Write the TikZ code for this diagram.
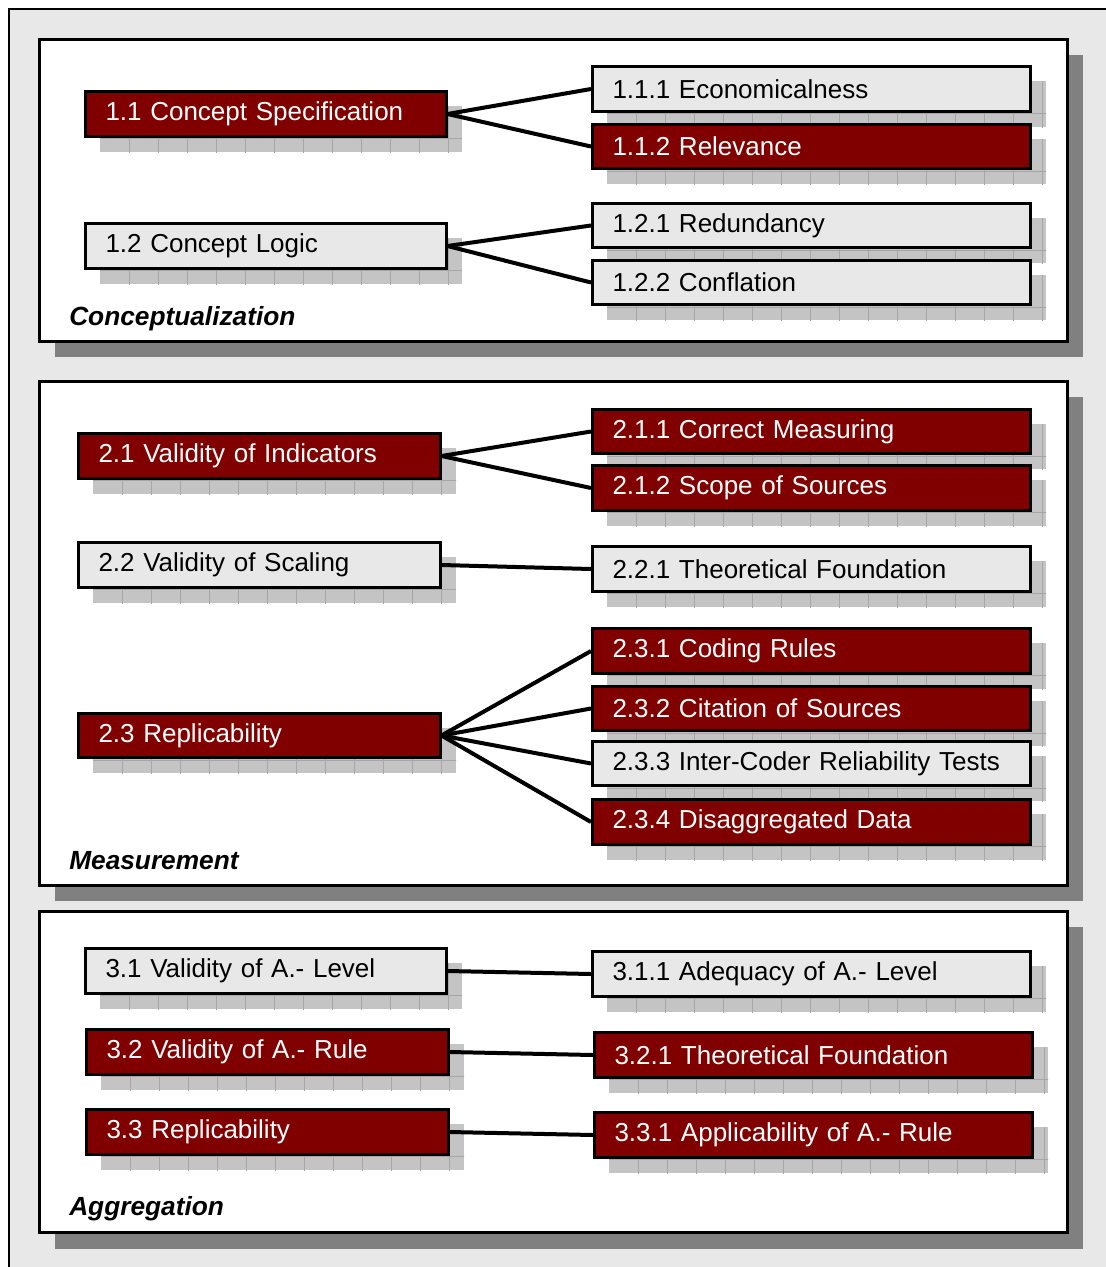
\documentclass[tikz,border=0pt]{standalone}
\usepackage{fontspec}
\setmainfont{Liberation Sans}
\definecolor{darkred}{HTML}{800000}
\definecolor{lightg}{HTML}{E8E8E8}
\definecolor{panelshadow}{HTML}{808080}
\definecolor{boxshadow}{HTML}{C4C4C4}
\definecolor{gridline}{HTML}{A6A6A6}
\pgfdeclarelayer{bg}\pgfdeclarelayer{shad}\pgfsetlayers{bg,shad,main}
\tikzset{
  boxbase/.style={draw=black, line width=2.25pt, inner ysep=0pt, align=left,
    font=\fontsize{19.5}{23}\selectfont, anchor=north west, rectangle},
  redbox/.style={boxbase, fill=darkred, text=white},
  greybox/.style={boxbase, fill=lightg, text=black},
  conn/.style={line width=3pt, draw=black},
  sectlabel/.style={font=\fontsize{19.7}{23}\selectfont\bfseries\itshape, anchor=west, inner sep=0pt},
  panel/.style={draw=black, line width=2.25pt, fill=white},
}
\newcommand\mybox[7]{%
  \pgfmathsetmacro\myBW{(#5-#3-1.5)*0.75}%
  \pgfmathsetmacro\myBH{(#6-#4-1)*0.75}%
  \pgfmathsetmacro\myTW{(#5-#3-1.5-40)*0.75}%
  \node[#2, minimum width=\myBW pt, minimum height=\myBH pt, text width=\myTW pt, inner xsep=15pt] (#1) at (#3,#4) {#7};
  \begin{pgfonlayer}{shad}
    \begin{scope}
      \clip (#3+16,#4+16) rectangle (#5+16,#6+16);
      \fill[boxshadow] (#3+16,#4+16) rectangle (#5+16,#6+16);
      \foreach \gx in {29,58,...,464} \draw[gridline, line width=0.6pt] (#3+16+\gx,#4+16) -- ++(0,60);
      \draw[gridline, line width=0.6pt] (#3+16,#4+48) -- ++(470,0);
    \end{scope}
  \end{pgfonlayer}
}
\begin{document}
\begin{tikzpicture}[x=0.75pt,y=-0.75pt]
\useasboundingbox (0,0) rectangle (1106,1267);
\begin{pgfonlayer}{bg}
  \fill[white] (0,0) rectangle (1106,1267);
  \fill[lightg] (9,9) rectangle (1106,1267);
  \draw[black, line width=1.8pt] (9,1267) -- (9,9) -- (1106,9);
  % panel shadows
  \fill[panelshadow] (55,55) rectangle (1083,357);
  \fill[panelshadow] (55,397) rectangle (1083,901);
  \fill[panelshadow] (55,927) rectangle (1083,1249);
  % panels
  \draw[panel] (39,39) rectangle (1067,341);
  \draw[panel] (39,381) rectangle (1067,885);
  \draw[panel] (39,911) rectangle (1067,1232);
\end{pgfonlayer}

% Conceptualization
\mybox{n11}{redbox}{84}{90}{446}{136}{1.1 Concept Specification}
\mybox{n111}{greybox}{591}{65}{1030}{111}{1.1.1 Economicalness}
\mybox{n112}{redbox}{591}{123}{1030}{168}{1.1.2 Relevance}
\mybox{n12}{greybox}{84}{222}{446}{268}{1.2 Concept Logic}
\mybox{n121}{greybox}{591}{202}{1030}{247}{1.2.1 Redundancy}
\mybox{n122}{greybox}{591}{259}{1030}{304}{1.2.2 Conflation}
\node[sectlabel] (l1) at (69,319) {Conceptualization};

% Measurement
\mybox{n21}{redbox}{77}{432}{440}{478}{2.1 Validity of Indicators}
\mybox{n211}{redbox}{591}{408}{1030}{453}{2.1.1 Correct Measuring}
\mybox{n212}{redbox}{591}{464}{1030}{510}{2.1.2 Scope of Sources}
\mybox{n22}{greybox}{77}{541}{440}{587}{2.2 Validity of Scaling}
\mybox{n221}{greybox}{591}{545}{1030}{591}{2.2.1 Theoretical Foundation}
\mybox{n23}{redbox}{77}{712}{440}{757}{2.3 Replicability}
\mybox{n231}{redbox}{591}{627}{1030}{673}{2.3.1 Coding Rules}
\mybox{n232}{redbox}{591}{685}{1030}{730}{2.3.2 Citation of Sources}
\mybox{n233}{greybox}{591}{740}{1030}{785}{2.3.3 Inter-Coder Reliability Tests}
\mybox{n234}{redbox}{591}{798}{1030}{844}{2.3.4 Disaggregated Data}
\node[sectlabel] (l2) at (69,861) {Measurement};

% Aggregation
\mybox{n31}{greybox}{84}{947}{446}{993}{3.1 Validity of A.- Level}
\mybox{n311}{greybox}{591}{950}{1030}{996}{3.1.1 Adequacy of A.- Level}
\mybox{n32}{redbox}{85}{1028}{448}{1074}{3.2 Validity of A.- Rule}
\mybox{n321}{redbox}{593}{1031}{1032}{1077}{3.2.1 Theoretical Foundation}
\mybox{n33}{redbox}{85}{1108}{448}{1154}{3.3 Replicability}
\mybox{n331}{redbox}{593}{1111}{1032}{1157}{3.3.1 Applicability of A.- Rule}
\node[sectlabel] (l3) at (69,1209) {Aggregation};

% connectors
\draw[conn] (n11.east) -- (n111.west);
\draw[conn] (n11.east) -- (n112.west);
\draw[conn] (n12.east) -- (n121.west);
\draw[conn] (n12.east) -- (n122.west);
\draw[conn] (n21.east) -- (n211.west);
\draw[conn] (n21.east) -- (n212.west);
\draw[conn] (n22.east) -- (n221.west);
\draw[conn] (n23.east) -- (n231.west);
\draw[conn] (n23.east) -- (n232.west);
\draw[conn] (n23.east) -- (n233.west);
\draw[conn] (n23.east) -- (n234.west);
\draw[conn] (n31.east) -- (n311.west);
\draw[conn] (n32.east) -- (n321.west);
\draw[conn] (n33.east) -- (n331.west);
\end{tikzpicture}
\end{document}
